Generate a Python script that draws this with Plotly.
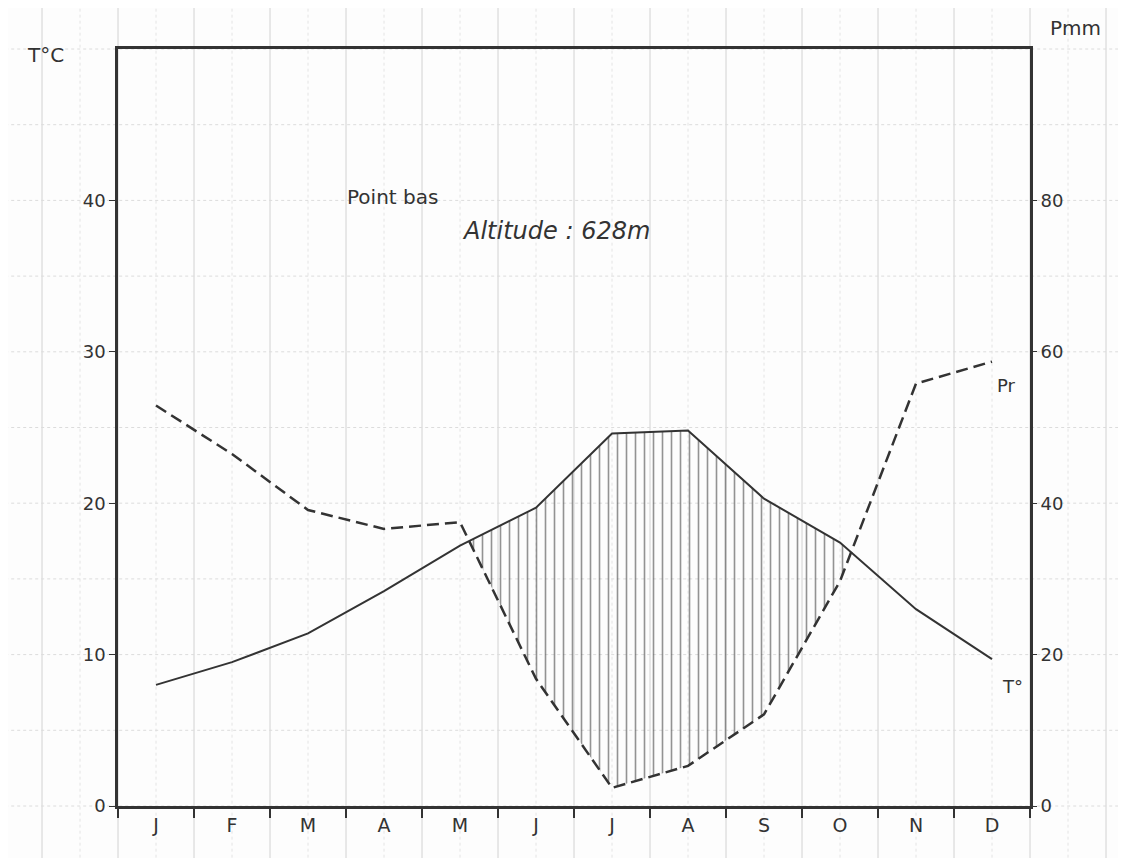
import numpy as np
import plotly.graph_objects as go

# Ombrothermic diagram (Gaussen): P = 2T
months = ["J", "F", "M", "A", "M", "J", "J", "A", "S", "O", "N", "D"]
temp_c = [8.0, 9.5, 11.4, 14.2, 17.2, 19.7, 24.6, 24.8, 20.3, 17.4, 13.0, 9.7]
precip_mm = [52.9, 46.5, 39.1, 36.6, 37.5, 16.8, 2.4, 5.3, 12.1, 29.7, 55.8, 58.7]
temp_ticks = [0, 10, 20, 30, 40]
precip_ticks = [0, 20, 40, 60, 80]

INK = "#333333"
GRID = "#d2d2d2"
FONT = "DejaVu Sans"

x = np.arange(len(months)) + 0.5
t = np.array(temp_c)
p_half = np.array(precip_mm) / 2

# dry period: where the temperature curve lies above P/2
d = t - p_half
poly_x, upper, lower = [], [], []
for i in range(len(x)):
    if d[i] > 0:
        poly_x.append(x[i]); upper.append(t[i]); lower.append(p_half[i])
    if i < len(x) - 1 and d[i] * d[i + 1] < 0:
        f = d[i] / (d[i] - d[i + 1])
        yc = t[i] + f * (t[i + 1] - t[i])
        poly_x.append(x[i] + f); upper.append(yc); lower.append(yc)

fig = go.Figure()

fig.add_trace(go.Scatter(
    x=poly_x + poly_x[::-1],
    y=upper + lower[::-1],
    mode="lines",
    fill="toself",
    fillcolor="rgba(255,255,255,0)",
    fillpattern=dict(shape="|", size=9, solidity=0.18, fgcolor="#2a2a2a",
                     bgcolor="rgba(255,255,255,0)"),
    line=dict(width=0),
    hoverinfo="skip",
))

fig.add_trace(go.Scatter(
    x=x, y=temp_c, mode="lines",
    line=dict(color=INK, width=2),
    name="T°",
))

fig.add_trace(go.Scatter(
    x=x, y=precip_mm, mode="lines", yaxis="y2",
    line=dict(color=INK, width=2.5, dash="12px,6px"),
    name="Pr",
))

# graph paper background
shapes = []
for k in range(-2, 15):
    shapes.append(dict(type="line", xref="paper", yref="paper",
                       x0=k / 12, x1=k / 12, y0=-0.1, y1=1.1,
                       line=dict(color=GRID, width=1), layer="below"))
    shapes.append(dict(type="line", xref="paper", yref="paper",
                       x0=(k + 0.5) / 12, x1=(k + 0.5) / 12, y0=-0.1, y1=1.1,
                       line=dict(color="#e4e4e4", width=1, dash="dot"), layer="below"))
for k in range(-1, 12):
    shapes.append(dict(type="line", xref="paper", yref="paper",
                       x0=-0.15, x1=1.12, y0=k / 10, y1=k / 10,
                       line=dict(color="#dcdcdc", width=1, dash="dot"), layer="below"))

annotations = [
    dict(text="T°C", xref="paper", yref="paper", x=-0.08, y=0.992,
         xanchor="center", yanchor="middle",
         showarrow=False, font=dict(size=20)),
    dict(text="Pmm", xref="paper", yref="paper", x=1.05, y=1.028,
         xanchor="center", yanchor="middle",
         showarrow=False, font=dict(size=20)),
    dict(text="Point bas", x=2.99, y=40.2, xanchor="left",
         showarrow=False, font=dict(size=20)),
    dict(text="<i>Altitude : 628m</i>", x=4.5, y=38.0, xanchor="left",
         showarrow=False, font=dict(size=24)),
    dict(text="Pr", x=11.54, y=27.8, xanchor="left",
         showarrow=False, font=dict(size=18)),
    dict(text="T°", x=11.6, y=7.9, xanchor="left",
         showarrow=False, font=dict(size=18)),
]

fig.update_layout(
    width=1126, height=858,
    margin=dict(l=110, r=104, t=41, b=60),
    paper_bgcolor="#fdfdfd",
    plot_bgcolor="rgba(0,0,0,0)",
    showlegend=False,
    font=dict(family=FONT, color=INK, size=18),
    shapes=shapes,
    annotations=annotations,
    xaxis=dict(
        range=[0, 12],
        tickvals=x, ticktext=months, ticks="",
        tickfont=dict(size=19),
        showgrid=False, zeroline=False,
        showline=True, mirror=True, linecolor=INK, linewidth=2.5,
        minor=dict(tickvals=list(range(13)), ticks="outside", ticklen=9,
                   tickcolor=INK, tickwidth=1.5, showgrid=False),
    ),
    yaxis=dict(
        range=[0, 50],
        tickvals=temp_ticks, ticks="outside", ticklen=6, tickcolor=INK,
        tickfont=dict(size=18),
        showgrid=False, zeroline=False,
        showline=True, mirror=True, linecolor=INK, linewidth=2.5,
    ),
    yaxis2=dict(
        range=[0, 100], overlaying="y", side="right",
        tickvals=precip_ticks, ticks="outside", ticklen=6, tickcolor=INK,
        tickfont=dict(size=18),
        showgrid=False, zeroline=False, showline=False,
    ),
)

fig.write_html("out.html")
